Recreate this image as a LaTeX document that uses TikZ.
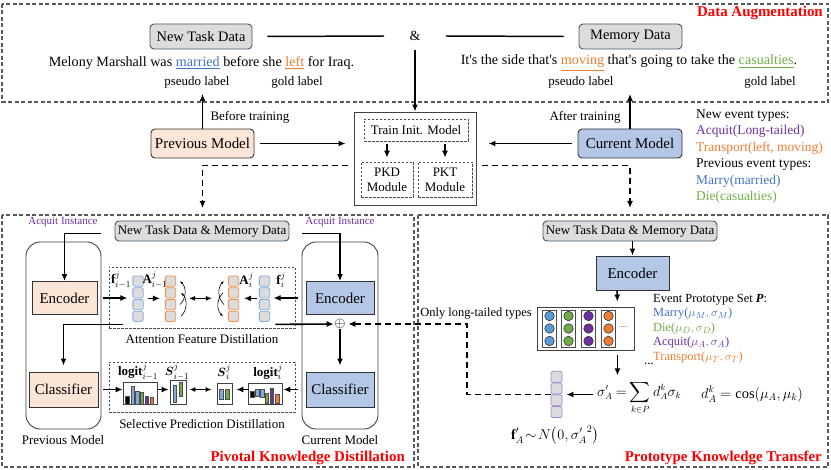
\documentclass[tikz,border=0pt]{standalone}
\usepackage{fontspec}
\setmainfont{Liberation Serif}
\usepackage{amsmath}
\usetikzlibrary{arrows.meta,positioning,calc}

\definecolor{peach}{HTML}{FBE5D6}
\definecolor{skyfill}{HTML}{B4C7E7}
\definecolor{boxgray}{HTML}{DCDCDC}
\definecolor{slate}{HTML}{44546A}
\definecolor{evblue}{HTML}{4472C4}
\definecolor{evorange}{HTML}{ED7D31}
\definecolor{evgreen}{HTML}{70AD47}
\definecolor{evpurple}{HTML}{7030A0}
\definecolor{dotblue}{HTML}{5B9BD5}
\definecolor{cellblue}{HTML}{7FAEDC}
\definecolor{cellorange}{HTML}{F0904A}
\definecolor{cellpurple}{HTML}{A483CF}

\tikzset{
  fnt/.style={font=\fontsize{#1}{#1}\selectfont},
  datanode/.style={draw=slate, fill=boxgray, rounded corners=4bp, line width=0.9pt, inner sep=0pt},
  prevnode/.style={draw=black!80, fill=peach, rounded corners=4bp, line width=0.9pt, inner sep=0pt, fnt=15},
  currnode/.style={draw=black!80, fill=skyfill, rounded corners=4bp, line width=0.9pt, inner sep=0pt, fnt=15},
  region/.style={draw=black!65, line width=1.1pt, dash pattern=on 4bp off 2.5bp},
  regtitle/.style={text=red, anchor=east, inner sep=0pt, font=\bfseries\fontsize{15}{15}\selectfont},
  arr/.style={-{Latex[length=7bp,width=6bp]}, line width=1.6pt},
  darr/.style={arr, dash pattern=on 6bp off 4bp, line width=1.7pt},
  attarr/.style={-{Latex[length=3bp,width=2.5bp]}, line width=0.6pt},
  modbox/.style={draw=black!70, dash pattern=on 2.5bp off 1.5bp, line width=0.8pt, inner sep=0pt},
  container/.style={draw=black!75, rounded corners=14bp, line width=0.9pt, inner sep=0pt},
  cell/.style={draw=#1, fill=boxgray, rounded corners=1.5bp, minimum size=10.3bp, inner sep=0pt, line width=0.8pt},
  chart/.style={draw=black!75, line width=0.8pt, inner sep=0pt, fill=white},
  bar/.style={draw=black!70, line width=0.4pt, fill=#1},
  protocol/.style={draw=black!70, line width=0.8pt, inner sep=0pt, minimum width=14bp, minimum height=37bp},
  dot/.style={circle, draw=black!80, fill=#1, minimum size=9.5bp, inner sep=0pt, line width=0.6pt}
}

\begin{document}
\begin{tikzpicture}[x=1bp,y=-1bp]
    \useasboundingbox[fill=white] (0,0) rectangle (831,470);

    % data augmentation
    \draw[region] (2,4) rectangle (828,102);
    \node[regtitle] (datitle) at (823,13) {Data Augmentation};
    \node[datanode, fnt=14.5, minimum width=102bp, minimum height=25bp] (newdata) at (201,36.5) {New Task Data};
    \node[fnt=14] (amp) at (415,36) {\&};
    \node[datanode, fnt=14.5, minimum width=103bp, minimum height=25bp] (memdata) at (630.5,36.5) {Memory Data};
    \draw[line width=1.5pt] ([xshift=15bp]newdata.east) -- ([xshift=-22bp]amp.west);
    \draw[line width=1.5pt] ([xshift=22bp]amp.east) -- ([xshift=-15bp]memdata.west);
    \node[fnt=14.2] (sentnew) at (201.5,63) {Melony Marshall was \textcolor{evblue}{\underline{married}} before she \textcolor{evorange}{\underline{left}} for Iraq.};
    \node[fnt=14.2] (sentmem) at (629,63) {It\textquotesingle s the side that\textquotesingle s \textcolor{evorange}{\underline{moving}} that\textquotesingle s going to take the \textcolor{evgreen}{\underline{casualties}}.};
    \node[fnt=13] (pseudonew) at (197,82) {pseudo label};
    \node[fnt=13] (goldnew) at (297,82) {gold label};
    \node[fnt=13] (pseudomem) at (581,82) {pseudo label};
    \node[fnt=13] (goldmem) at (770,82) {gold label};

    % models and init box
    \node[prevnode, minimum width=103bp, minimum height=29bp] (prevm) at (202.5,143.5) {Previous Model};
    \node[currnode, minimum width=104bp, minimum height=29bp] (currm) at (630,143.5) {Current Model};
    \coordinate (prevup) at (202.5,94);
    \coordinate (currup) at (630,94);
    \draw[arr] (prevm.north) -- (prevup);
    \draw[arr] (currm.north) -- (currup);
    \node[fnt=13, anchor=west] (beforet) at (207,117) {Before training};
    \node[fnt=13, anchor=east] (aftert) at (624,117) {After training};

    \node[draw=black!75, line width=0.9pt, minimum width=122bp, minimum height=93bp] (initbox) at (415,158.5) {};
    \node[modbox, fnt=13, minimum width=104bp, minimum height=22bp] (trainm) at (416,130) {Train Init. Model};
    \node[modbox, font=\fontsize{13}{15}\selectfont, align=center, minimum width=52bp, minimum height=35bp] (pkdm) at (387,179.5) {PKD\\Module};
    \node[modbox, font=\fontsize{13}{15}\selectfont, align=center, minimum width=54bp, minimum height=35bp] (pktm) at (445,179.5) {PKT\\Module};
    \draw[arr, line width=1.2pt] ([yshift=-3bp]trainm.south -| pkdm) -- ([yshift=4bp]pkdm.north);
    \draw[arr, line width=1.2pt] ([yshift=-3bp]trainm.south -| pktm) -- ([yshift=4bp]pktm.north);
    \draw[arr] (amp.south) ++(0,6) -- (initbox.north);
    \draw[arr] ([xshift=6bp]prevm.east) -- ([xshift=-8bp]initbox.west |- prevm.east);
    \draw[arr] ([xshift=-6bp]currm.west) -- ([xshift=12bp]initbox.east |- currm.west);

    \coordinate (pkdin) at (202.5,208);
    \coordinate (pktin) at (630,208);
    \draw[darr] ([xshift=-6bp,yshift=-7bp]initbox.west) -| (pkdin);
    \draw[darr] ([xshift=6bp,yshift=-7bp]initbox.east) -| (pktin);

    % event types
    \node[anchor=north west, align=left, inner sep=0pt, font=\fontsize{13.5}{16.5}\selectfont] (evtypes) at (696,109.5)
    {New event types:\\
     \textcolor{evpurple}{Acquit(Long-tailed)}\\
     \textcolor{evorange}{Transport(left, moving)}\\
     Previous event types:\\
     \textcolor{evblue}{Marry(married)}\\
     \textcolor{evgreen}{Die(casualties)}};

    % pivotal knowledge distillation
    \draw[region] (2,215) rectangle (414,467);
    \node[regtitle] (pkdtitle) at (405,458) {Pivotal Knowledge Distillation};
    \node[datanode, fnt=13, minimum width=174bp, minimum height=20bp] (pkddata) at (202,231) {New Task Data \& Memory Data};
    \node[container, minimum width=75bp, minimum height=187bp] (prevcon) at (63.5,335.5) {};
    \node[container, minimum width=76bp, minimum height=187bp] (currcon) at (340,335.5) {};
    \node[fnt=13] (prevcap) at (63,440) {Previous Model};
    \node[fnt=13] (currcap) at (340,440) {Current Model};
    \node[prevnode, minimum width=65bp, minimum height=33bp, rounded corners=0pt] (prevenc) at (64.5,298) {Encoder};
    \node[currnode, minimum width=68bp, minimum height=33bp, rounded corners=0pt] (currenc) at (340,298) {Encoder};
    \node[prevnode, minimum width=69bp, minimum height=35bp, rounded corners=0pt] (prevcls) at (63.5,389.5) {Classifier};
    \node[currnode, minimum width=68bp, minimum height=35bp, rounded corners=0pt] (currcls) at (340,389.5) {Classifier};
    \node[fnt=11, text=evpurple] (prevacq) at (63,222) {Acquit Instance};
    \node[fnt=11, text=evpurple] (curracq) at (340,222) {Acquit Instance};
    \draw[arr] ([yshift=-3bp]prevacq.south east) -| (prevenc.north);
    \draw[arr] ([yshift=-3bp]curracq.south west) -| (currenc.north);

    % attention feature distillation
    \node[modbox, minimum width=186bp, minimum height=61bp] (afd) at (202,297.5) {};
    \node[fnt=13] (afdlabel) at (202,339) {Attention Feature Distillation};
    \foreach \k in {1,...,4} {
      \node[cell=cellblue] (lfp\k) at (138,269.3+11.75*\k) {};
      \node[cell=cellorange] (lop\k) at (170.5,269.3+11.75*\k) {};
      \node[cell=cellorange] (rop\k) at (233.5,269.3+11.75*\k) {};
      \node[cell=cellblue] (rfp\k) at (264.5,269.3+11.75*\k) {};
    }
    \node[fnt=13] (lfplabel) at (121,280) {$\mathbf{f}_{i-1}^{j}$};
    \node[fnt=13] (loplabel) at (155,280) {$\mathbf{A}_{i-1}^{j}$};
    \node[fnt=13] (roplabel) at (246.5,280) {$\mathbf{A}_{i}^{j}$};
    \node[fnt=13] (rfplabel) at (281,280) {$\mathbf{f}_{i}^{j}$};
    \draw[arr, line width=1.3pt] ([xshift=6bp]prevenc.east) -- ([xshift=-5bp]prevenc.east -| lfp2.west);
    \draw[arr, line width=1.3pt] ([xshift=4bp]lfp2.south east) -- ([xshift=-5bp]lop2.south west);
    \draw[attarr] ([xshift=4bp]lop3.east) to[bend right=45] ([xshift=4bp]lop1.east);
    \draw[attarr] ([xshift=5bp]lop4.east) to[bend right=45] ([xshift=5bp]lop2.east);
    \draw[arr, {Latex[length=6bp,width=5bp]}-{Latex[length=6bp,width=5bp]}, line width=1.3pt] ([xshift=13bp]lop2.south east) -- ([xshift=-16bp]rop2.south west);
    \draw[attarr] ([xshift=-4bp]rop3.west) to[bend left=45] ([xshift=-4bp]rop1.west);
    \draw[attarr] ([xshift=-5bp]rop2.west) to[bend right=45] ([xshift=-5bp]rop4.west);
    \draw[arr, line width=1.3pt] ([xshift=-2bp]rfp2.south west) -- ([xshift=5bp]rop2.south east);
    \draw[arr, line width=1.3pt] ([xshift=-8bp]currenc.west) -- ([xshift=3.5bp]currenc.west -| rfp2.east);

    \node[inner sep=0.5pt, fnt=14] (oplus) at (340,324) {$\oplus$};
    \draw[arr] ([xshift=14bp,yshift=4bp]afd.south west) -| ([yshift=6bp]prevcls.north);
    \draw[arr] ([xshift=-20bp,yshift=4bp]afd.south east) -- (oplus.west);
    \draw[arr] (oplus.south) -- ([yshift=6bp]currcls.north);

    % selective prediction distillation
    \node[modbox, minimum width=186bp, minimum height=50bp] (spd) at (202,387) {};
    \node[fnt=13] (spdlabel) at (202,424) {Selective Prediction Distillation};
    \node[chart, minimum width=34bp, minimum height=22bp] (prevlogit) at (140,393) {};
    \node[chart, minimum width=16bp, minimum height=24bp] (prevsel) at (178,392) {};
    \node[chart, minimum width=15bp, minimum height=21bp] (currsel) at (224.5,393.5) {};
    \node[chart, minimum width=34bp, minimum height=21bp] (currlogit) at (265,393.5) {};
    \foreach \bx/\bh/\bc in {3/8/black, 8.5/18/cellblue, 13/13/cellblue, 17.5/12/evgreen, 22.5/8/evpurple, 27.5/7/evorange}
      \draw[bar=\bc] ([xshift=\bx bp]prevlogit.south west) rectangle ++(3.5,-\bh);
    \foreach \bx/\by/\bh/\bc in {3/7/6/black, 8/8/7/cellblue, 13/7/8/cellblue, 17.5/1.5/10/evgreen, 22.5/1.5/15/evpurple, 28/1.5/9/evorange}
      \draw[bar=\bc] ([xshift=\bx bp, yshift=\by bp]currlogit.south west) rectangle ++(3.5,-\bh);
    \draw[bar=cellblue] ([xshift=3.5bp, yshift=2bp]prevsel.south west) rectangle ++(3.5,-17);
    \draw[bar=evgreen] ([xshift=9.5bp, yshift=8bp]prevsel.south west) rectangle ++(3.5,-14);
    \draw[bar=cellblue] ([xshift=3bp, yshift=5bp]currsel.south west) rectangle ++(3.5,-10);
    \draw[bar=evgreen] ([xshift=9bp, yshift=5bp]currsel.south west) rectangle ++(3.5,-10);
    \node[fnt=13] (prevlogitlabel) at (138,372) {$\mathbf{logit}_{i-1}^{j}$};
    \node[fnt=13] (prevsellabel) at (177,372) {$\boldsymbol{S}_{i-1}^{j}$};
    \node[fnt=13] (currsellabel) at (224,372) {$\boldsymbol{S}_{i}^{j}$};
    \node[fnt=13] (currlogitlabel) at (268,372) {$\mathbf{logit}_{i}^{j}$};
    \draw[arr, line width=1.3pt] ([xshift=5bp]prevcls.east) -- (prevcls.east -| prevlogit.west);
    \draw[arr, line width=1.3pt] (prevlogit.east |- prevcls.east) -- ([xshift=-1bp]prevsel.west |- prevcls.east);
    \draw[arr, {Latex[length=6bp,width=5bp]}-{Latex[length=6bp,width=5bp]}, line width=1.3pt] ([xshift=3bp]prevsel.east |- prevcls.east) -- ([xshift=-5bp]currsel.west |- prevcls.east);
    \draw[arr, line width=1.3pt] (currlogit.west |- currcls.west) -- ([xshift=4bp]currsel.east |- currcls.west);
    \draw[arr, line width=1.3pt] ([xshift=-8bp]currcls.west) -- ([xshift=1bp]currcls.west -| currlogit.east);

    % prototype knowledge transfer
    \draw[region] (418,215) rectangle (828,467);
    \node[regtitle] (pkttitle) at (822,458) {Prototype Knowledge Transfer};
    \node[datanode, fnt=13, minimum width=174bp, minimum height=20bp] (pktdata) at (630,231) {New Task Data \& Memory Data};
    \node[currnode, minimum width=73bp, minimum height=34bp, rounded corners=0pt] (pktenc) at (632.5,273) {Encoder};
    \draw[arr] (pktdata.south -| pktenc) -- (pktenc.north);
    \node[draw=black!75, line width=0.9pt, minimum width=97bp, minimum height=43bp, inner sep=0pt] (protos) at (585.5,328.5) {};
    \draw[arr] ([xshift=-15.5bp]pktenc.south) -- ([xshift=-17bp,yshift=5bp]protos.north east);
    \foreach \px/\pc [count=\i] in {549.5/dotblue, 568.5/evgreen, 588.5/evpurple, 608.5/evorange} {
      \node[protocol] (pcol\i) at (\px,328.5) {};
      \foreach \py [count=\j] in {316,328.5,341}
        \node[dot=\pc] (pdot\i\j) at (\px,\py) {};
    }
    \node[fnt=9, text=black!70] (pcoldots) at (624,327) {...};
    \node[anchor=north west, align=left, inner sep=0pt, font=\fontsize{12.5}{14.5}\selectfont] (protoset) at (653,294)
    {Event Prototype Set \textbf{\textit{P}}:\\
     \textcolor{evblue}{Marry($\mu_M,\sigma_M$)}\\
     \textcolor{evgreen}{Die($\mu_D,\sigma_D$)}\\
     \textcolor{evpurple}{Acquit($\mu_A,\sigma_A$)}\\
     \textcolor{evorange}{Transport($\mu_T,\sigma_T$)}};
    \node[fnt=13] (protodots) at (649,364) {...};
    \node[fnt=12.5] (longtail) at (476,314) {Only long-tailed types};

    \node[anchor=west, inner sep=0pt, fnt=13.5] (sigmaf) at (597,398) {$\thickmuskip=4mu\displaystyle \sigma'_A=\sum_{k\in P} d_A^k\sigma_k$};
    \node[anchor=west, inner sep=0pt, fnt=14.5] (cosf) at (701,394) {$d_A^k=\cos(\mu_A,\mu_k)$};
    \draw[arr] ([xshift=-17bp,yshift=-5bp]protos.south east) -- ++(0,20);
    \foreach \k in {1,...,4}
      \node[cell=cellpurple, minimum size=11bp] (pv\k) at (556.5,365.1+11.75*\k) {};
    \draw[arr] ([xshift=-4bp]sigmaf.west |- pv2.south east) -- ([xshift=4bp]pv2.south east);
    \node[fnt=14] (fnoise) at (555,435) {$\mathbf{f}'_A\!\sim\!N\bigl(0,{\sigma'_A}^{2}\bigr)$};
    \coordinate (ltcorner) at (467,324);
    \draw[darr] (pv2.south west) -| (ltcorner) -- ([xshift=2bp]oplus.east);

\end{tikzpicture}
\end{document}
